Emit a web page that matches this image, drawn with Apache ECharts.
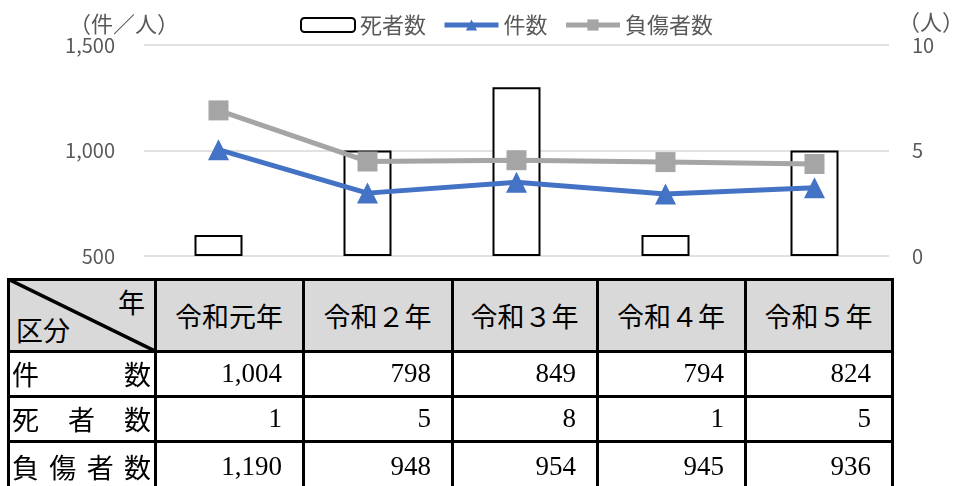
<!DOCTYPE html>
<html>
<head>
<meta charset="utf-8">
<script src="https://cdn.jsdelivr.net/npm/echarts@6/dist/echarts.min.js"></script>
<style>
  html, body { margin: 0; padding: 0; background: #fff; }
  #wrap { position: relative; width: 967px; height: 486px; overflow: hidden; }
  #chart { position: absolute; left: 0; top: 0; width: 967px; height: 486px; }
  #table { position: absolute; left: 0; top: 0; width: 967px; height: 486px;
           font-family: "Liberation Serif", "Noto Sans CJK JP", serif; font-size: 27px; color: #000; }
  .cell { position: absolute; box-sizing: border-box; display: flex; align-items: center; }
  .hline, .vline { position: absolute; background: #000; }
</style>
</head>
<body>
<div id="wrap">
  <div id="chart"></div>
  <div id="table"></div>
</div>
<script>
// ---- data ----
const categories = ['令和元年', '令和２年', '令和３年', '令和４年', '令和５年'];
const cases = [1004, 798, 849, 794, 824];      // 件数
const deaths = [1, 5, 8, 1, 5];                 // 死者数
const injuries = [1190, 948, 954, 945, 936];   // 負傷者数
const seriesNames = ['死者数', '件数', '負傷者数'];
const rowLabels = ['件数', '死者数', '負傷者数'];
const leftAxisTicks = [500, 1000, 1500];
const rightAxisTicks = [0, 5, 10];

// ---- chart ----
const chart = echarts.init(document.getElementById('chart'), null, { renderer: 'canvas' });
const fontFamily = '"Noto Sans CJK JP", "Noto Sans", sans-serif';
const fmt = v => v.toLocaleString('en-US');

chart.setOption({
  animation: false,
  textStyle: { fontFamily: fontFamily },
  legend: {
    left: 295, top: 9,
    itemWidth: 54, itemHeight: 14, itemGap: 16,
    lineStyle: { width: 5 },
    textStyle: { fontSize: 22, color: '#595959', fontFamily: fontFamily },
    data: seriesNames
  },
  grid: { left: 144, right: 72, top: 45, bottom: 230, containLabel: false },
  xAxis: {
    type: 'category', data: categories, boundaryGap: true,
    axisLine: { show: false }, axisTick: { show: false }, axisLabel: { show: false }
  },
  yAxis: [
    {
      type: 'value',
      min: leftAxisTicks[0], max: leftAxisTicks[leftAxisTicks.length - 1],
      interval: leftAxisTicks[1] - leftAxisTicks[0],
      name: '（件／人）', nameLocation: 'end', nameGap: 10,
      nameTextStyle: { fontSize: 22, color: '#595959', padding: [0, 40, 0, 0], fontFamily: fontFamily },
      axisLine: { show: false }, axisTick: { show: false },
      axisLabel: { formatter: v => fmt(v), fontSize: 20, color: '#595959', margin: 29, fontFamily: fontFamily },
      splitLine: { show: true, lineStyle: { color: '#D9D9D9', width: 1.5 } }
    },
    {
      type: 'value', position: 'right',
      min: rightAxisTicks[0], max: rightAxisTicks[rightAxisTicks.length - 1],
      interval: rightAxisTicks[1] - rightAxisTicks[0],
      name: '（人）', nameLocation: 'end', nameGap: 12,
      nameTextStyle: { fontSize: 22, color: '#595959', padding: [0, 0, 0, 84], fontFamily: fontFamily },
      axisLine: { show: false }, axisTick: { show: false },
      axisLabel: { fontSize: 20, color: '#595959', margin: 23, fontFamily: fontFamily },
      splitLine: { show: false }
    }
  ],
  series: [
    {
      name: seriesNames[0], type: 'bar', yAxisIndex: 1, data: deaths, barWidth: 48,
      itemStyle: { color: '#FFFFFF', borderColor: '#000000', borderWidth: 2 }
    },
    {
      name: seriesNames[1], type: 'line', yAxisIndex: 0, data: cases,
      symbol: 'triangle', symbolSize: 21, color: '#4472C4',
      lineStyle: { width: 5, color: '#4472C4' }, itemStyle: { color: '#4472C4' }
    },
    {
      name: seriesNames[2], type: 'line', yAxisIndex: 0, data: injuries,
      symbol: 'rect', symbolSize: 20, color: '#A5A5A5',
      lineStyle: { width: 5, color: '#A5A5A5' }, itemStyle: { color: '#A5A5A5' }
    }
  ]
});

// ---- table ----
const colEdges = [8, 155, 303, 452, 597, 745, 892];
const rowEdges = [279, 351, 396, 441, 492];
const B = 3;
const tbl = document.getElementById('table');

function addCell(r, c, html, opts) {
  const d = document.createElement('div');
  d.className = 'cell';
  d.style.left = colEdges[c] + 'px';
  d.style.top = rowEdges[r] + 'px';
  d.style.width = (colEdges[c + 1] - colEdges[c]) + 'px';
  d.style.height = (rowEdges[r + 1] - rowEdges[r]) + 'px';
  if (opts.bg) d.style.background = opts.bg;
  d.style.justifyContent = opts.justify || 'center';
  if (opts.pad) d.style.padding = opts.pad;
  d.innerHTML = html;
  tbl.appendChild(d);
  return d;
}

// header row
const hdr = addCell(0, 0, '', { bg: '#D9D9D9' });
const w0 = colEdges[1] - colEdges[0], h0 = rowEdges[1] - rowEdges[0];
hdr.innerHTML =
  '<svg width="' + w0 + '" height="' + h0 + '" style="position:absolute;left:0;top:0">' +
  '<line x1="0" y1="0" x2="' + w0 + '" y2="' + h0 + '" stroke="#000" stroke-width="3.5"/></svg>' +
  '<span style="position:absolute;right:10px;top:3px;">年</span>' +
  '<span style="position:absolute;left:8px;bottom:2px;">区分</span>';
categories.forEach((cat, i) => addCell(0, i + 1, cat, { bg: '#D9D9D9' }));

// data rows
const rowsData = [cases, deaths, injuries];
rowLabels.forEach((lab, r) => {
  const spans = lab.split('').map(ch => '<span>' + ch + '</span>').join('');
  addCell(r + 1, 0, spans, { justify: 'space-between', pad: '0 4px 0 4px' });
  rowsData[r].forEach((v, i) => {
    addCell(r + 1, i + 1, fmt(v), { justify: 'flex-end', pad: '0 21px 0 0' });
  });
});

// grid lines of table
rowEdges.forEach(y => {
  const l = document.createElement('div');
  l.className = 'hline';
  l.style.left = (colEdges[0] - B / 2) + 'px';
  l.style.top = (y - B / 2) + 'px';
  l.style.width = (colEdges[colEdges.length - 1] - colEdges[0] + B) + 'px';
  l.style.height = B + 'px';
  tbl.appendChild(l);
});
colEdges.forEach(x => {
  const l = document.createElement('div');
  l.className = 'vline';
  l.style.left = (x - B / 2) + 'px';
  l.style.top = (rowEdges[0] - B / 2) + 'px';
  l.style.width = B + 'px';
  l.style.height = (rowEdges[rowEdges.length - 1] - rowEdges[0] + B) + 'px';
  tbl.appendChild(l);
});
</script>
</body>
</html>
